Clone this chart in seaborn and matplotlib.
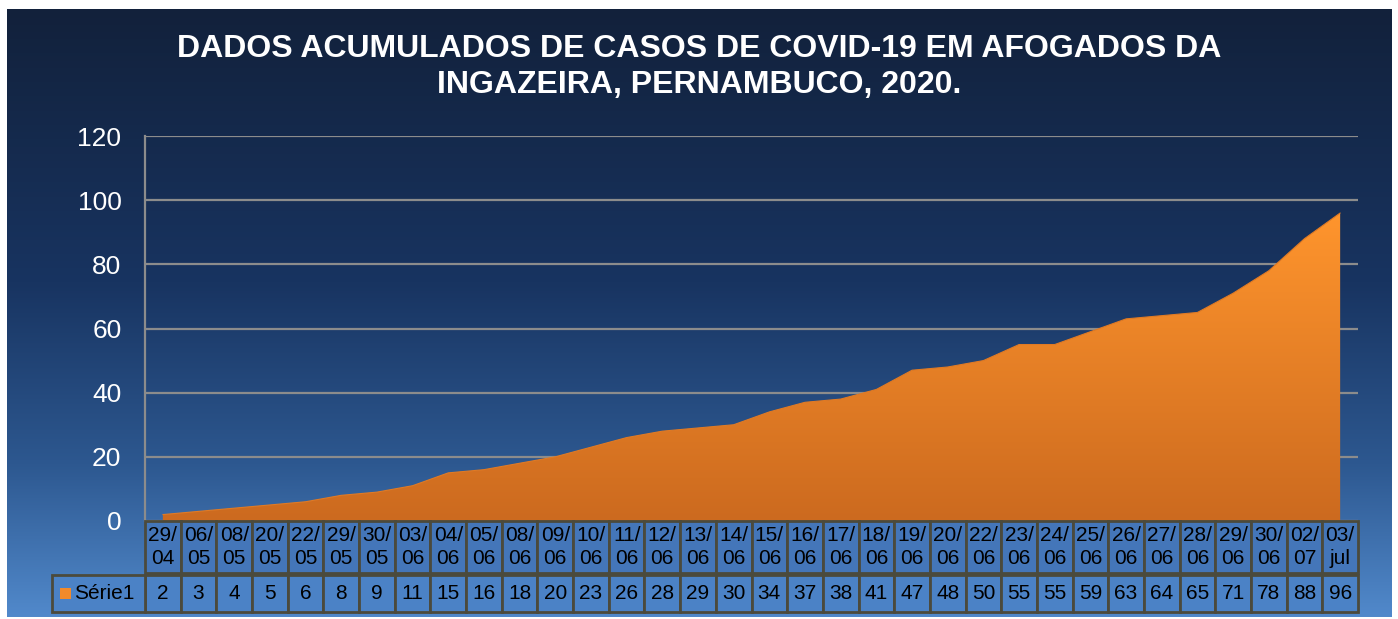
import numpy as np
import pandas as pd
import seaborn as sns
import matplotlib.pyplot as plt
from matplotlib.colors import LinearSegmentedColormap
from matplotlib.patches import Rectangle
from matplotlib.transforms import blended_transform_factory

# ==============================
# DATA
# ==============================
datas = ["29/\n04", "06/\n05", "08/\n05", "20/\n05", "22/\n05", "29/\n05", "30/\n05",
         "03/\n06", "04/\n06", "05/\n06", "08/\n06", "09/\n06", "10/\n06", "11/\n06",
         "12/\n06", "13/\n06", "14/\n06", "15/\n06", "16/\n06", "17/\n06", "18/\n06",
         "19/\n06", "20/\n06", "22/\n06", "23/\n06", "24/\n06", "25/\n06", "26/\n06",
         "27/\n06", "28/\n06", "29/\n06", "30/\n06", "02/\n07", "03/\njul"]
casos = [2, 3, 4, 5, 6, 8, 9, 11, 15, 16, 18, 20, 23, 26, 28, 29, 30, 34, 37, 38,
         41, 47, 48, 50, 55, 55, 59, 63, 64, 65, 71, 78, 88, 96]
serie = "Série1"
titulo = "DADOS ACUMULADOS DE CASOS DE COVID-19 EM AFOGADOS DA\nINGAZEIRA, PERNAMBUCO, 2020."
yticks = [0, 20, 40, 60, 80, 100, 120]

df = pd.DataFrame({"idx": range(len(casos)), "casos": casos})

# ==============================
# STYLE
# ==============================
sns.set_style("white")
plt.rcParams['font.family'] = ['Liberation Sans', 'DejaVu Sans']

fig = plt.figure(figsize=(13.98, 6.19), dpi=100)
fig.patch.set_facecolor("white")

# background gradient
bg = fig.add_axes([7 / 1398, 2 / 619, 1385 / 1398, 608 / 619])
bg_cmap = LinearSegmentedColormap.from_list(
    "bg", [(0, "#12213b"), (0.45, "#183461"), (0.75, "#2d5890"), (1, "#5189cb")])
bg.imshow(np.linspace(0, 1, 256).reshape(-1, 1), aspect="auto", cmap=bg_cmap,
          extent=[0, 1, 0, 1], origin="upper")
bg.set_axis_off()

# main axes
ax = fig.add_axes([145 / 1398, 1 - 521 / 619, 1213 / 1398, 385 / 619])
ax.patch.set_alpha(0)

sns.lineplot(data=df, x="idx", y="casos", ax=ax, color="#e07a24", lw=0.8, zorder=3)
poly = ax.fill_between(df["idx"], 0, df["casos"], color="none", lw=0, zorder=2)

orange = LinearSegmentedColormap.from_list("orng", ["#cc6a1f", "#ff952d"])
im = ax.imshow(np.linspace(0, 1, 256).reshape(-1, 1), aspect="auto", cmap=orange,
               extent=[-0.5, len(casos) - 0.5, 0, max(casos)], origin="lower", zorder=2)
im.set_clip_path(poly.get_paths()[0], transform=ax.transData)

ax.set_xlim(-0.5, len(casos) - 0.5)
ax.set_ylim(0, 120)
ax.set_yticks(yticks)
ax.set_yticklabels([str(v) for v in yticks], color="white", fontsize=19)
ax.tick_params(axis="y", length=0, pad=17)
ax.set_xticks([])
ax.set_xlabel("")
ax.set_ylabel("")
ax.grid(axis="y", color="#8c8c8c", lw=1.6)
ax.set_axisbelow(True)
for s in ["top", "right", "bottom"]:
    ax.spines[s].set_visible(False)
ax.spines["left"].set_color("#8c8c8c")
ax.spines["left"].set_linewidth(1.6)

# ==============================
# DATA TABLE
# ==============================
tr = blended_transform_factory(ax.transData, ax.transAxes)
fc_datas = "#4476b9"
fc_vals = "#4b82c6"
cell_ec = "#4b4a3c"
r1_top, r1_bot = 0.0, -0.135
r2_top, r2_bot = -0.14, -0.236
for i, (d, v) in enumerate(zip(datas, casos)):
    ax.add_patch(Rectangle((i - 0.5, r1_bot), 1, r1_top - r1_bot, transform=tr,
                           fc=fc_datas, ec=cell_ec, lw=2, clip_on=False, zorder=4))
    ax.text(i, (r1_top + r1_bot) / 2, d, transform=tr, ha="center", va="center",
            fontsize=15, color="black", linespacing=1.3, clip_on=False, zorder=5)
    ax.add_patch(Rectangle((i - 0.5, r2_bot), 1, r2_top - r2_bot, transform=tr,
                           fc=fc_vals, ec=cell_ec, lw=2, clip_on=False, zorder=4))
    ax.text(i, (r2_top + r2_bot) / 2, str(v), transform=tr, ha="center", va="center",
            fontsize=15, color="black", clip_on=False, zorder=5)

# legend cell
leg_w = 93 / (1213 / len(casos))
ax.add_patch(Rectangle((-0.5 - leg_w, r2_bot), leg_w, r2_top - r2_bot, transform=tr,
                       fc=fc_vals, ec=cell_ec, lw=2, clip_on=False, zorder=4))
ax.add_patch(Rectangle((-0.5 - leg_w + 0.22, -0.203), 0.3, 0.03, transform=tr,
                       fc="#f28a2a", ec="none", clip_on=False, zorder=5))
ax.text(-0.5 - leg_w + 0.62, (r2_top + r2_bot) / 2, serie, transform=tr, ha="left",
        va="center", fontsize=15, color="black", clip_on=False, zorder=5)

# title
fig.text(0.5, 1 - 67 / 619, titulo, ha="center", va="center", fontsize=23,
         fontweight="bold", color="white", linespacing=1.25)

fig.savefig("out.png", dpi=100, facecolor=fig.get_facecolor())
